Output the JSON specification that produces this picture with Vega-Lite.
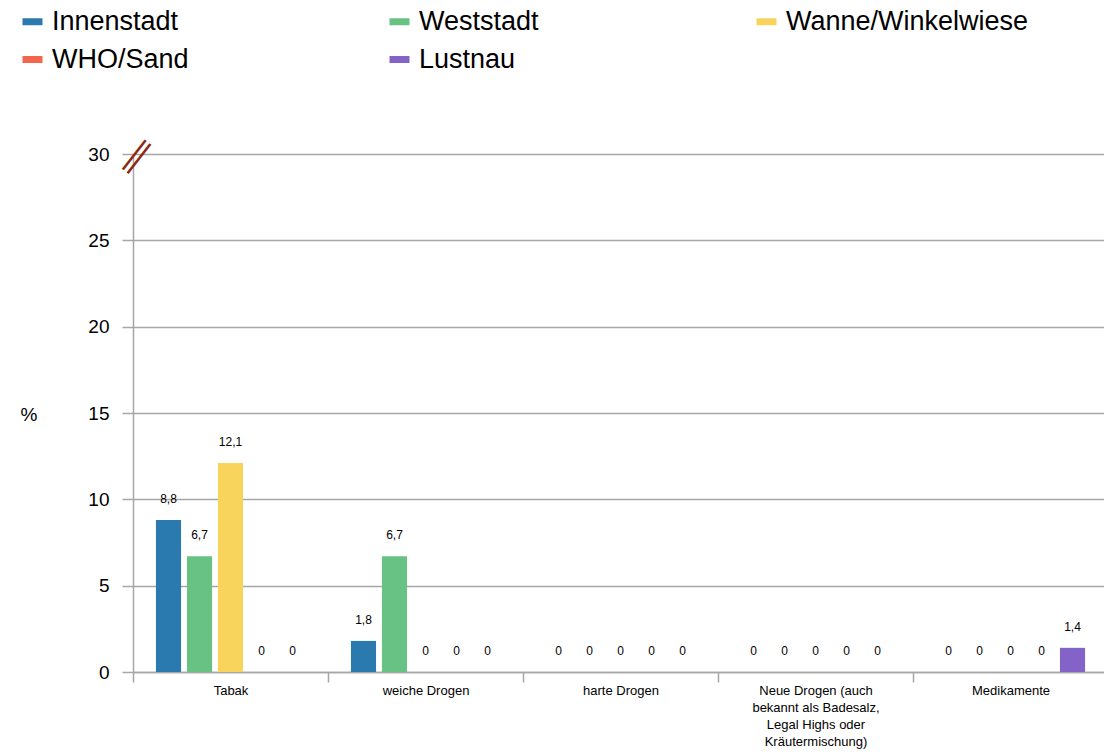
{
  "$schema": "https://vega.github.io/schema/vega-lite/v6.json",
  "width": 975,
  "height": 518,
  "autosize": {"type": "none"},
  "padding": {"left": 133, "top": 154, "right": 0, "bottom": 82},
  "background": "white",
  "config": {
    "font": "Liberation Sans",
    "view": {"stroke": null},
    "locale": {"number": {"decimal": ",", "thousands": ".", "grouping": [3], "currency": ["", " €"]}}
  },
  "data": {
    "values": [
      {"kategorie": "Tabak", "stadtteil": "Innenstadt", "wert": 8.8},
      {"kategorie": "Tabak", "stadtteil": "Weststadt", "wert": 6.7},
      {"kategorie": "Tabak", "stadtteil": "Wanne/Winkelwiese", "wert": 12.1},
      {"kategorie": "Tabak", "stadtteil": "WHO/Sand", "wert": 0},
      {"kategorie": "Tabak", "stadtteil": "Lustnau", "wert": 0},
      {"kategorie": "weiche Drogen", "stadtteil": "Innenstadt", "wert": 1.8},
      {"kategorie": "weiche Drogen", "stadtteil": "Weststadt", "wert": 6.7},
      {"kategorie": "weiche Drogen", "stadtteil": "Wanne/Winkelwiese", "wert": 0},
      {"kategorie": "weiche Drogen", "stadtteil": "WHO/Sand", "wert": 0},
      {"kategorie": "weiche Drogen", "stadtteil": "Lustnau", "wert": 0},
      {"kategorie": "harte Drogen", "stadtteil": "Innenstadt", "wert": 0},
      {"kategorie": "harte Drogen", "stadtteil": "Weststadt", "wert": 0},
      {"kategorie": "harte Drogen", "stadtteil": "Wanne/Winkelwiese", "wert": 0},
      {"kategorie": "harte Drogen", "stadtteil": "WHO/Sand", "wert": 0},
      {"kategorie": "harte Drogen", "stadtteil": "Lustnau", "wert": 0},
      {"kategorie": "Neue Drogen (auch bekannt als Badesalz, Legal Highs oder Kräutermischung)", "stadtteil": "Innenstadt", "wert": 0},
      {"kategorie": "Neue Drogen (auch bekannt als Badesalz, Legal Highs oder Kräutermischung)", "stadtteil": "Weststadt", "wert": 0},
      {"kategorie": "Neue Drogen (auch bekannt als Badesalz, Legal Highs oder Kräutermischung)", "stadtteil": "Wanne/Winkelwiese", "wert": 0},
      {"kategorie": "Neue Drogen (auch bekannt als Badesalz, Legal Highs oder Kräutermischung)", "stadtteil": "WHO/Sand", "wert": 0},
      {"kategorie": "Neue Drogen (auch bekannt als Badesalz, Legal Highs oder Kräutermischung)", "stadtteil": "Lustnau", "wert": 0},
      {"kategorie": "Medikamente", "stadtteil": "Innenstadt", "wert": 0},
      {"kategorie": "Medikamente", "stadtteil": "Weststadt", "wert": 0},
      {"kategorie": "Medikamente", "stadtteil": "Wanne/Winkelwiese", "wert": 0},
      {"kategorie": "Medikamente", "stadtteil": "WHO/Sand", "wert": 0},
      {"kategorie": "Medikamente", "stadtteil": "Lustnau", "wert": 1.4}
    ]
  },
  "encoding": {
    "x": {
      "field": "kategorie",
      "type": "nominal",
      "sort": null,
      "scale": {"paddingInner": 0, "paddingOuter": 0},
      "axis": {
        "title": null,
        "labelAngle": 0,
        "labelFontSize": 13,
        "labelColor": "#000000",
        "labelPadding": 2,
        "labelLineHeight": 17,
        "labelLimit": 400,
        "tickBand": "extent",
        "tickSize": 10,
        "tickColor": "#a6a6a6",
        "tickWidth": 1.5,
        "domainColor": "#a6a6a6",
        "domainWidth": 1.5,
        "labelExpr": "datum.value == 'Neue Drogen (auch bekannt als Badesalz, Legal Highs oder Kräutermischung)' ? ['Neue Drogen (auch', 'bekannt als Badesalz,', 'Legal Highs oder', 'Kräutermischung)'] : datum.label"
      }
    },
    "y": {
      "field": "wert",
      "type": "quantitative",
      "scale": {"domain": [0, 30], "nice": false},
      "axis": {
        "values": [0, 5, 10, 15, 20, 25, 30],
        "grid": true,
        "gridColor": "#a6a6a6",
        "gridWidth": 1.5,
        "domainColor": "#a6a6a6",
        "domainWidth": 1.5,
        "tickColor": "#a6a6a6",
        "tickWidth": 1.5,
        "tickSize": 11,
        "labelFontSize": 19,
        "labelColor": "#000000",
        "labelPadding": 13,
        "title": "%",
        "titleAngle": 0,
        "titleFontSize": 19,
        "titleFontWeight": "normal",
        "titleColor": "#000000",
        "titleX": -113,
        "titleY": 260,
        "titleAlign": "left",
        "titleBaseline": "middle"
      }
    }
  },
  "layer": [
    {
      "mark": {"type": "bar"},
      "encoding": {
        "xOffset": {
          "field": "stadtteil",
          "type": "nominal",
          "sort": ["Innenstadt", "Weststadt", "Wanne/Winkelwiese", "WHO/Sand", "Lustnau"],
          "scale": {"paddingInner": 0.19, "paddingOuter": 0.74}
        },
        "color": {
          "field": "stadtteil",
          "type": "nominal",
          "scale": {
            "domain": ["Innenstadt", "Weststadt", "Wanne/Winkelwiese", "WHO/Sand", "Lustnau"],
            "range": ["#2a7ab0", "#67c284", "#f8d45c", "#f4654e", "#8463c8"]
          },
          "legend": {
            "title": null,
            "orient": "none",
            "direction": "horizontal",
            "columns": 3,
            "gridAlign": "all",
            "legendX": -114,
            "legendY": -146,
            "columnPadding": 91,
            "rowPadding": 10,
            "labelFontSize": 27,
            "labelColor": "#000000",
            "labelOffset": 6,
            "labelLimit": 400,
            "symbolType": "M-1,-0.35H1V0.35H-1Z",
            "symbolSize": 400,
            "symbolStrokeWidth": 0
          }
        }
      }
    },
    {
      "mark": {"type": "text", "fontSize": 12, "baseline": "bottom", "dy": -14, "color": "#000000"},
      "encoding": {
        "xOffset": {
          "field": "stadtteil",
          "type": "nominal",
          "sort": ["Innenstadt", "Weststadt", "Wanne/Winkelwiese", "WHO/Sand", "Lustnau"],
          "scale": {"paddingInner": 0.19, "paddingOuter": 0.74}
        },
        "text": {"field": "wert", "type": "quantitative", "format": "~g"}
      }
    },
    {
      "data": {"values": [{"kategorie": "Tabak", "wert": 30, "zeichen": ["—", "—"]}]},
      "mark": {"type": "text", "fontSize": 37, "lineHeight": 6, "angle": -52, "align": "center", "baseline": "middle", "color": "#8b2a12"},
      "encoding": {
        "x": {"field": "kategorie", "type": "nominal", "bandPosition": 0},
        "y": {"field": "wert", "type": "quantitative"},
        "text": {"field": "zeichen"}
      }
    }
  ]
}
